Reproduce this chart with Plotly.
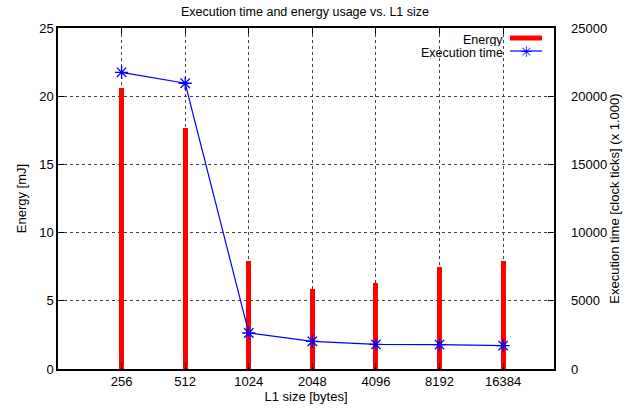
import plotly.graph_objects as go

sizes = ["256", "512", "1024", "2048", "4096", "8192", "16384"]
energy = [20.6, 17.7, 7.9, 5.85, 6.3, 7.5, 7.9]
exec_time = [21750, 20950, 2640, 2030, 1800, 1790, 1720]

FONT = "Liberation Sans, Arial, sans-serif"
L, R, T, B = 58, 79, 28, 42
W, H = 633, 411
pw, ph = W - L - R, H - T - B

def px(x):
    return (x - L) / pw

def py(y):
    return (H - B - y) / ph

fig = go.Figure()
fig.add_trace(go.Bar(x=sizes, y=energy, width=0.08, marker=dict(color="#ff0000", line=dict(width=0)),
                     name="Energy", showlegend=False))
fig.add_trace(go.Scatter(x=sizes, y=exec_time, yaxis="y2", mode="lines+markers",
                         line=dict(color="#0000ff", width=1.2),
                         marker=dict(symbol="asterisk-open", size=11, color="#0000ff",
                                     line=dict(color="#0000ff", width=1.3)),
                         name="Execution time", showlegend=False))

grid = dict(showgrid=True, gridcolor="#444444", gridwidth=1, griddash="dot")
tf = dict(size=13, color="black", family=FONT)
lf = dict(size=12.5, color="black", family=FONT)
fig.update_layout(
    width=W, height=H,
    margin=dict(l=L, r=R, t=T, b=B, autoexpand=False),
    paper_bgcolor="white", plot_bgcolor="white",
    font=dict(family=FONT, size=13, color="black"),
    title=dict(text="Execution time and energy usage vs. L1 size", x=305 / W, xanchor="center",
               y=1 - 12 / H, yanchor="middle", font=dict(size=12.5, color="black", family=FONT)),
    bargap=0,
    xaxis=dict(type="category", range=[-1, 6.8], ticks="inside", ticklen=6, tickcolor="black",
               showline=True, linecolor="black", linewidth=1.5, mirror="ticks", automargin=False,
               tickfont=tf, title=dict(text="L1 size [bytes]", standoff=2, font=tf),
               zeroline=False, **grid),
    yaxis=dict(range=[0, 25], dtick=5, ticks="inside", ticklen=6, tickcolor="black",
               showline=True, linecolor="black", linewidth=1.5, mirror=True, automargin=False,
               tickfont=tf, title=dict(text="Energy [mJ]", standoff=10, font=tf),
               zeroline=False, **grid),
    yaxis2=dict(range=[0, 25000], dtick=5000, tickformat="d", overlaying="y", side="right",
                ticks="inside", ticklen=6, tickcolor="black", showgrid=False, zeroline=False,
                automargin=False, tickfont=tf, ticklabelstandoff=16,
                title=dict(text="Execution time [clock ticks] (x 1.000)", standoff=0, font=tf)),
    showlegend=False,
)

# legend drawn gnuplot-style (text right-aligned, sample on the right)
fig.add_annotation(xref="paper", yref="paper", x=px(505), y=py(39.5), text="Energy",
                   showarrow=False, xanchor="right", yanchor="middle", font=lf, height=13)
fig.add_annotation(xref="paper", yref="paper", x=px(505), y=py(52.5), text="Execution time",
                   showarrow=False, xanchor="right", yanchor="middle", font=lf, height=13)
fig.add_shape(type="line", xref="paper", yref="paper", x0=px(510), x1=px(542), y0=py(38), y1=py(38),
              line=dict(color="#ff0000", width=5))
fig.add_shape(type="line", xref="paper", yref="paper", x0=px(510), x1=px(542), y0=py(51), y1=py(51),
              line=dict(color="#0000ff", width=1.2))
fig.add_annotation(xref="paper", yref="paper", x=px(526), y=py(51), text="✳",
                   showarrow=False, xanchor="center", yanchor="middle",
                   font=dict(size=15, color="#0000ff"))

fig.write_html("out.html", config={"displayModeBar": False},
               post_script="document.body.style.margin='0';document.body.style.overflow='hidden';")
